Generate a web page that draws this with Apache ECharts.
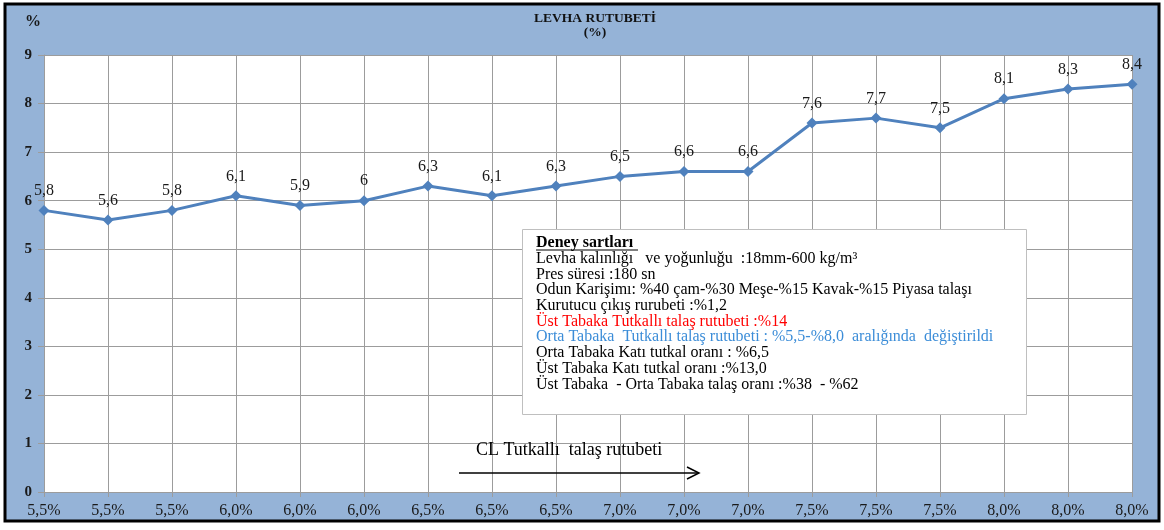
<!DOCTYPE html>
<html>
<head>
<meta charset="utf-8">
<script src="https://cdn.jsdelivr.net/npm/echarts@6/dist/echarts.min.js"></script>
<style>
  html, body { margin: 0; padding: 0; background: #fff; }
  #chart { width: 1164px; height: 530px; }
</style>
</head>
<body>
<div id="chart"></div>
<script>
// CL tutkalli talas rutubeti (x) and levha rutubeti (y)
const categories = [
  "5,5%", "5,5%", "5,5%", "6,0%", "6,0%", "6,0%",
  "6,5%", "6,5%", "6,5%", "7,0%", "7,0%", "7,0%",
  "7,5%", "7,5%", "7,5%", "8,0%", "8,0%", "8,0%"
];
const moisture = [5.8, 5.6, 5.8, 6.1, 5.9, 6, 6.3, 6.1, 6.3, 6.5, 6.6, 6.6, 7.6, 7.7, 7.5, 8.1, 8.3, 8.4];

const noteLines = [
  { text: "Deney sartları", style: "head" },
  { text: "Levha kalınlığı   ve yoğunluğu  :18mm-600 kg/m³", style: "plain" },
  { text: "Pres süresi :180 sn", style: "plain" },
  { text: "Odun Karişimı: %40 çam-%30 Meşe-%15 Kavak-%15 Piyasa talaşı", style: "plain" },
  { text: "Kurutucu çıkış rurubeti :%1,2", style: "plain" },
  { text: "Üst Tabaka Tutkallı talaş rutubeti :%14", style: "red" },
  { text: "Orta Tabaka  Tutkallı talaş rutubeti : %5,5-%8,0  aralığında  değiştirildi", style: "blue" },
  { text: "Orta Tabaka Katı tutkal oranı : %6,5", style: "plain" },
  { text: "Üst Tabaka Katı tutkal oranı :%13,0", style: "plain" },
  { text: "Üst Tabaka  - Orta Tabaka talaş oranı :%38  - %62", style: "plain" }
];

const serif = "'Liberation Serif', 'DejaVu Serif', serif";
const ink = "#1a1a1a";
const noteSize = 16;
const noteLH = 15.7;

const noteRich = {
  head: { fontFamily: serif, fontSize: noteSize, fontWeight: "bold", fill: "#000", lineHeight: noteLH },
  plain: { fontFamily: serif, fontSize: noteSize, fill: "#000", lineHeight: noteLH },
  red: { fontFamily: serif, fontSize: noteSize, fill: "#ff0000", lineHeight: noteLH },
  blue: { fontFamily: serif, fontSize: noteSize, fill: "#3c8dd8", lineHeight: noteLH }
};

const chart = echarts.init(document.getElementById("chart"));

chart.setOption({
  animation: false,
  backgroundColor: "#fff",
  title: {
    text: "LEVHA RUTUBETİ\n(%)",
    left: 590,
    top: 7,
    textAlign: "center",
    textStyle: {
      fontFamily: serif,
      fontSize: 13.5,
      fontWeight: "bold",
      color: "#111",
      lineHeight: 14
    }
  },
  grid: {
    left: 44,
    right: 32,
    top: 55,
    bottom: 38,
    show: true,
    backgroundColor: "#fff",
    borderWidth: 0
  },
  xAxis: {
    type: "category",
    data: categories,
    boundaryGap: false,
    axisLine: { lineStyle: { color: "#9c9c9c", width: 1 } },
    axisTick: { show: true, alignWithLabel: true, interval: 0, length: 5, lineStyle: { color: "#9c9c9c" } },
    axisLabel: { interval: 0, margin: 11, fontFamily: serif, fontSize: 16, color: ink },
    splitLine: { show: true, interval: 0, lineStyle: { color: "#9c9c9c", width: 1 } }
  },
  yAxis: {
    type: "value",
    min: 0,
    max: 9,
    interval: 1,
    name: "%",
    nameLocation: "end",
    nameGap: 25,
    nameTextStyle: { fontFamily: serif, fontSize: 16, fontWeight: "bold", color: ink, align: "right", padding: [0, 3, 0, 0] },
    axisLine: { show: true, lineStyle: { color: "#9c9c9c", width: 1 } },
    axisTick: { show: true, length: 6, lineStyle: { color: "#9c9c9c" } },
    axisLabel: { margin: 12, fontFamily: serif, fontSize: 15, fontWeight: "bold", color: ink },
    splitLine: { show: true, lineStyle: { color: "#9c9c9c", width: 1 } }
  },
  series: [{
    type: "line",
    data: moisture,
    symbol: "diamond",
    symbolSize: 11,
    lineStyle: { color: "#4f81bd", width: 3 },
    itemStyle: { color: "#4f81bd" },
    label: {
      show: true,
      position: "top",
      distance: 6,
      fontFamily: serif,
      fontSize: 16,
      color: ink,
      formatter: p => String(p.value).replace(".", ",")
    },
    z: 5
  }],
  graphic: [
    {
      type: "rect",
      z: -10,
      silent: true,
      shape: { x: 5, y: 4, width: 1154, height: 517 },
      style: { fill: "#95b3d7", stroke: "#000", lineWidth: 3 }
    },
    {
      type: "rect",
      z: 10,
      silent: true,
      shape: { x: 522.5, y: 229.5, width: 504, height: 185 },
      style: { fill: "#fff", stroke: "#bfbfbf", lineWidth: 1 }
    },
    {
      type: "text",
      z: 11,
      silent: true,
      left: 536,
      top: 235,
      style: {
        text: noteLines.map(l => `{${l.style}|${l.text}}`).join("\n"),
        rich: noteRich
      }
    },
    {
      type: "line",
      z: 11,
      silent: true,
      shape: { x1: 536, y1: 250, x2: 638, y2: 250 },
      style: { stroke: "#000", lineWidth: 1.2 }
    },
    {
      type: "text",
      z: 11,
      silent: true,
      left: 476,
      top: 441,
      style: {
        text: "CL Tutkallı  talaş rutubeti",
        fontFamily: serif,
        fontSize: 18,
        fill: "#000"
      }
    },
    {
      type: "line",
      z: 11,
      silent: true,
      shape: { x1: 459, y1: 473, x2: 699, y2: 473 },
      style: { stroke: "#000", lineWidth: 1.5 }
    },
    {
      type: "polyline",
      z: 11,
      silent: true,
      shape: { points: [[687, 467], [699, 473], [687, 479]] },
      style: { stroke: "#000", lineWidth: 1.5, fill: null }
    }
  ]
});
</script>
</body>
</html>
